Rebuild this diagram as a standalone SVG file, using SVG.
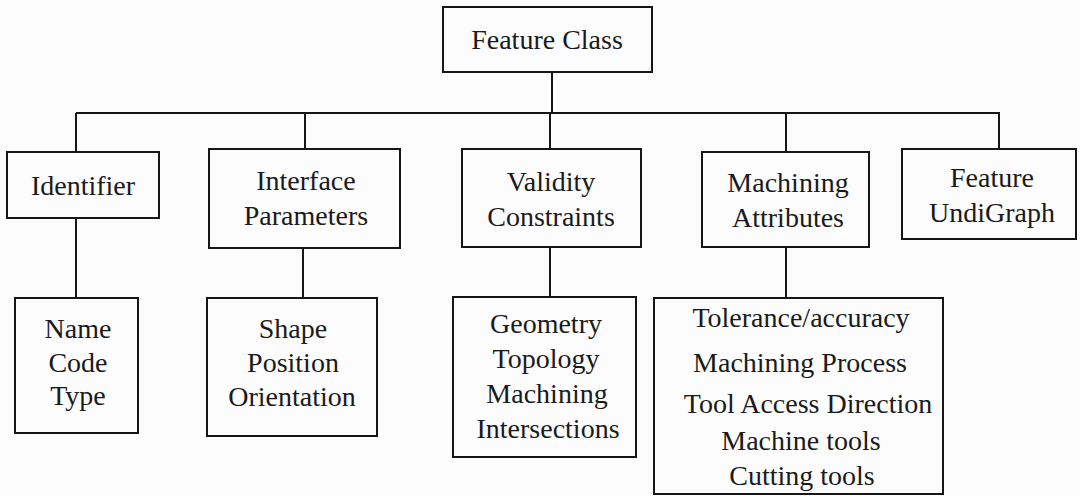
<svg xmlns="http://www.w3.org/2000/svg" width="1080" height="496" viewBox="0 0 1080 496">
<style>
.box{fill:none;stroke:#161616;stroke-width:2}
.ln{fill:none;stroke:#161616;stroke-width:2}
text{font-family:"Liberation Serif","Times New Roman",serif;font-size:28px;fill:#1a1a1a;text-anchor:middle}
</style>
<rect x="0" y="0" width="1080" height="496" fill="#fcfcfc"/>
<g id="connectors">
<path class="ln" d="M552 72V113M76 113H1000M76 113V152M305 113V149M550 113V149M786 113V152M999 113V149"/>
<path class="ln" d="M76 218V298M303 248V298M550 247V297M786 247V298"/>
</g>
<g id="feature-class">
<rect class="box" x="443" y="7" width="209" height="65"/>
<text x="547" y="49">Feature Class</text>
</g>
<g id="identifier">
<rect class="box" x="7" y="152" width="152" height="66"/>
<text x="83" y="195">Identifier</text>
</g>
<g id="interface-parameters">
<rect class="box" x="209" y="149" width="191" height="99"/>
<text x="306" y="190">Interface</text>
<text x="306" y="225">Parameters</text>
</g>
<g id="validity-constraints">
<rect class="box" x="462" y="149" width="179" height="98"/>
<text x="551" y="191">Validity</text>
<text x="551" y="226">Constraints</text>
</g>
<g id="machining-attributes">
<rect class="box" x="702" y="152" width="167" height="95"/>
<text x="788" y="192">Machining</text>
<text x="788" y="227">Attributes</text>
</g>
<g id="feature-undigraph">
<rect class="box" x="902" y="149" width="174" height="90"/>
<text x="992" y="187">Feature</text>
<text x="992" y="222">UndiGraph</text>
</g>
<g id="identifier-items">
<rect class="box" x="15" y="298" width="123" height="135"/>
<text x="78" y="338">Name</text>
<text x="78" y="372">Code</text>
<text x="78" y="405">Type</text>
</g>
<g id="interface-items">
<rect class="box" x="207" y="298" width="170" height="138"/>
<text x="293" y="338">Shape</text>
<text x="293" y="372">Position</text>
<text x="292" y="406">Orientation</text>
</g>
<g id="validity-items">
<rect class="box" x="453" y="297" width="183" height="160"/>
<text x="546" y="333">Geometry</text>
<text x="546" y="368">Topology</text>
<text x="547" y="403">Machining</text>
<text x="548" y="438">Intersections</text>
</g>
<g id="machining-items">
<rect class="box" x="654" y="298" width="289" height="196"/>
<text x="801" y="327">Tolerance/accuracy</text>
<text x="800" y="372">Machining Process</text>
<text x="808" y="413">Tool Access Direction</text>
<text x="801" y="450">Machine tools</text>
<text x="802" y="485">Cutting tools</text>
</g>
</svg>
